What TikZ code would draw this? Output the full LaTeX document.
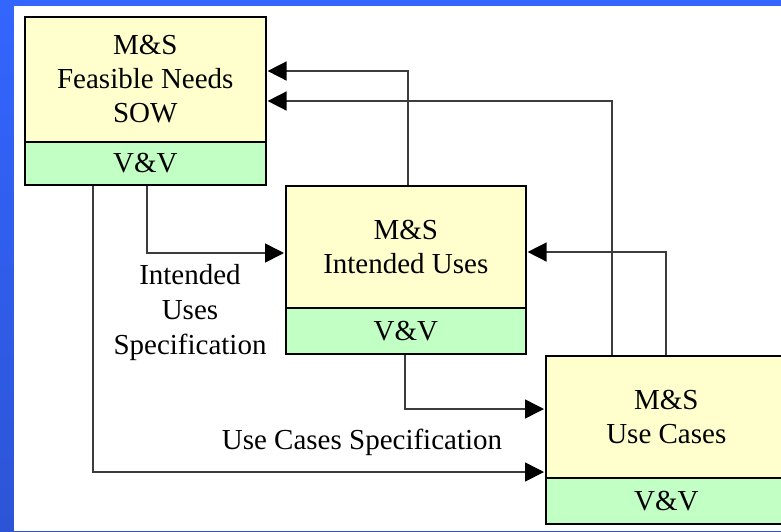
\documentclass[tikz,border=0pt]{standalone}
\usepackage{fontspec}
\setmainfont{Liberation Serif}
\usetikzlibrary{arrows.meta}
\definecolor{bgblue}{RGB}{51,102,255}
\definecolor{bgblue2}{RGB}{44,84,214}
\definecolor{boxyellow}{RGB}{255,255,206}
\definecolor{boxgreen}{RGB}{194,255,196}
\definecolor{linegray}{RGB}{60,60,60}
\begin{document}
\begin{tikzpicture}[x=1pt,y=-1pt,
  txt/.style={font=\fontsize{29}{34}\selectfont, align=center, inner sep=0pt},
  mstop/.style={txt, draw=black, line width=1.6pt, fill=boxyellow, anchor=north west, minimum height=125pt},
  vvbox/.style={txt, draw=black, line width=1.6pt, fill=boxgreen, anchor=north west, minimum height=44pt},
  conn/.style={draw=linegray, line width=1.6pt, shorten >=1pt, -{Triangle[length=19pt,width=19pt,color=black,fill=black]}},
  lbl/.style={txt, font=\fontsize{29}{35}\selectfont}]
\useasboundingbox (0,0) rectangle (781,531);
\clip (0,0) rectangle (781,531);
\shade[top color=bgblue, bottom color=bgblue2] (0,0) rectangle (781,531);
\fill[white] (14,6) rectangle (781,531);
% boxes
\node[mstop, minimum width=241pt, minimum height=125pt] (b1y) at (24,16) {M\&S\\Feasible Needs\\SOW};
\node[vvbox, minimum width=241pt, minimum height=43pt] (b1g) at (24,141) {V\&V};
\node[mstop, minimum width=240pt, minimum height=122pt] (b2y) at (285,185) {M\&S\\Intended Uses};
\node[vvbox, minimum width=240pt, minimum height=46pt] (b2g) at (285,307) {V\&V};
\node[mstop, minimum width=241pt, minimum height=122pt] (b3y) at (545,355) {M\&S\\Use Cases};
\node[vvbox, minimum width=241pt, minimum height=46pt] (b3g) at (545,477) {V\&V};
% connector bends
\coordinate (k1) at (408,71);
\coordinate (k2) at (612,101);
\coordinate (k3) at (666,252);
\coordinate (k4) at (147,253);
\coordinate (k5) at (93,472);
\coordinate (k6) at (405,409);
\draw[conn] (b2y.north -| k1) |- (b1y.east |- k1);
\draw[conn] (b3y.north -| k2) |- (b1y.east |- k2);
\draw[conn] (b3y.north -| k3) |- (b2y.east |- k3);
\draw[conn] (b1g.south -| k4) |- (b2y.west |- k4);
\draw[conn] (b1g.south -| k5) |- (b3y.west |- k5);
\draw[conn] (b2g.south -| k6) |- (b3y.west |- k6);
% labels
\node[lbl] (l1) at (190,313) {Intended\\Uses\\Specification};
\node[lbl] (l2) at (362,442) {Use Cases Specification};
\end{tikzpicture}
\end{document}
